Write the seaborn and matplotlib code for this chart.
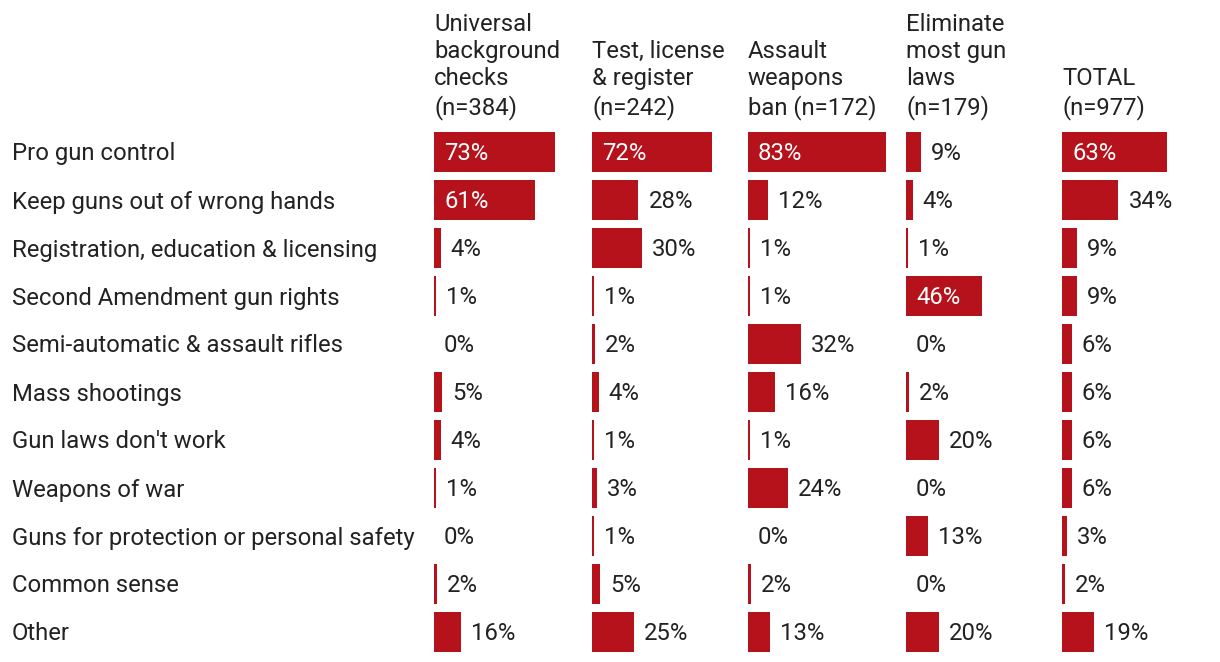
import matplotlib
matplotlib.use("Agg")
import matplotlib.pyplot as plt
import seaborn as sns
import pandas as pd

categories = [
    "Pro gun control",
    "Keep guns out of wrong hands",
    "Registration, education & licensing",
    "Second Amendment gun rights",
    "Semi-automatic & assault rifles",
    "Mass shootings",
    "Gun laws don't work",
    "Weapons of war",
    "Guns for protection or personal safety",
    "Common sense",
    "Other",
]
column_titles = [
    "Universal\nbackground\nchecks\n(n=384)",
    "Test, license\n& register\n(n=242)",
    "Assault\nweapons\nban (n=172)",
    "Eliminate\nmost gun\nlaws\n(n=179)",
    "TOTAL\n(n=977)",
]
universal_bg = [73, 61, 4, 1, 0, 5, 4, 1, 0, 2, 16]
test_license = [72, 28, 30, 1, 2, 4, 1, 3, 1, 5, 25]
assault_ban = [83, 12, 1, 1, 32, 16, 1, 24, 0, 2, 13]
eliminate = [9, 4, 1, 46, 0, 2, 20, 0, 13, 0, 20]
total = [63, 34, 9, 9, 6, 6, 6, 6, 3, 2, 19]
series = [universal_bg, test_license, assault_ban, eliminate, total]

sns.set_theme(style="white")
plt.rcParams["font.family"] = ["Roboto", "DejaVu Sans"]

W, H = 1220, 662
BAR = "#B5121B"
TXT = "#222222"
FS = 17.2

fig = plt.figure(figsize=(W / 100, H / 100), dpi=100)

col_x = [434, 592, 748, 906, 1062]
px_per_pct = 1.66
ax_w = 150
top, bottom = 128, 656
dy = 2 / 48  # small vertical nudge for text, in row units

for ci, (vals, title) in enumerate(zip(series, column_titles)):
    ax = fig.add_axes([col_x[ci] / W, (H - bottom) / H, ax_w / W, (bottom - top) / H])
    df = pd.DataFrame({"cat": categories, "val": vals})
    sns.barplot(data=df, y="cat", x="val", orient="h", color=BAR, saturation=1,
                width=40 / 48, linewidth=0, ax=ax)
    ax.set_xlim(0, ax_w / px_per_pct)
    ax.set_ylim(len(categories) - 0.5, -0.5)
    ax.axis("off")
    off = 10 / px_per_pct
    for i, v in enumerate(vals):
        if v >= 40:
            ax.text(off, i + dy, f"{v}%", color="white", fontsize=FS, va="center", ha="left")
        else:
            ax.text(v + off, i + dy, f"{v}%", color=TXT, fontsize=FS, va="center", ha="left")
    ax.text(0, 1 + 8 / (bottom - top), title, transform=ax.transAxes, ha="left", va="bottom",
            fontsize=FS, color=TXT, linespacing=1.24)

for i, c in enumerate(categories):
    y = 154 + 48 * i
    fig.text(12 / W, 1 - y / H, c, ha="left", va="center", fontsize=FS, color=TXT)

fig.savefig("out.png", dpi=100, facecolor="white")
